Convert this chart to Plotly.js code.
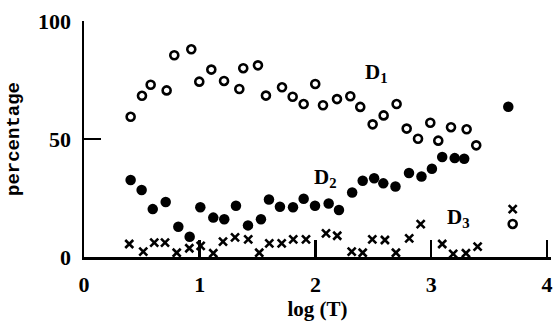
<!DOCTYPE html>
<html>
<head>
<meta charset="utf-8">
<script src="https://cdn.plot.ly/plotly-3.0.1.min.js"></script>
<style>html,body{margin:0;padding:0;background:#fff;}#chart{width:553px;height:327px;}</style>
</head>
<body>
<div id="chart"></div>
<script>
// D1 (open circles)
var d1X = [0.403,0.501,0.576,0.714,0.780,0.927,0.996,1.100,1.210,1.342,1.376,1.503,1.572,1.711,1.803,1.898,1.998,2.065,2.186,2.301,2.387,2.494,2.589,2.701,2.788,2.886,2.992,3.061,3.171,3.306,3.389,3.704];
var d1Y = [59.4,68.3,73.0,70.6,85.5,88.0,74.3,79.4,74.6,71.2,80.0,81.2,68.4,71.9,67.9,64.8,73.3,64.3,66.9,68.1,63.6,56.2,60.0,64.8,54.4,50.1,56.9,49.3,55.0,54.1,47.3,14.0];
// D2 (filled circles)
var d2X = [0.403,0.498,0.594,0.706,0.815,0.913,1.005,1.117,1.212,1.313,1.417,1.529,1.598,1.693,1.806,1.898,1.996,2.114,2.203,2.317,2.408,2.507,2.586,2.691,2.808,2.916,3.006,3.095,3.203,3.285,3.666];
var d2Y = [32.6,28.4,20.3,23.3,12.8,8.6,21.1,16.7,16.0,21.7,13.4,16.0,24.4,21.3,21.1,24.7,21.7,22.7,19.9,27.3,32.3,33.4,31.2,29.9,35.6,34.1,37.4,42.4,41.9,41.6,63.7];
// D3 (crosses)
var d3X = [0.391,0.512,0.607,0.700,0.801,0.910,1.008,1.117,1.201,1.305,1.419,1.514,1.601,1.708,1.808,1.918,2.091,2.188,2.313,2.408,2.491,2.600,2.695,2.810,2.909,3.095,3.190,3.300,3.401,3.704];
var d3Y = [5.5,2.3,6.1,6.1,1.8,3.7,4.7,1.6,6.5,8.3,7.5,1.8,5.8,5.8,7.5,7.5,10.0,9.0,2.3,1.8,7.5,7.2,1.8,7.9,13.9,5.5,1.3,1.6,4.4,20.3];

var seriesLabels = ['D<sub>1</sub>','D<sub>2</sub>','D<sub>3</sub>'];
var labelX = [2.53, 2.09, 3.235];
var labelY = [77.8, 33.3, 16.4];
var xTicks = [0,1,2,3,4];
var yTicks = [0,50,100];

var traces = [
  {x:d1X, y:d1Y, mode:'markers', type:'scatter', cliponaxis:false,
   marker:{symbol:'circle-open', size:8, color:'#000', line:{width:2.6, color:'#000'}}},
  {x:d2X, y:d2Y, mode:'markers', type:'scatter', cliponaxis:false,
   marker:{symbol:'circle', size:10.5, color:'#000', line:{width:0}}},
  {x:d3X, y:d3Y, mode:'markers', type:'scatter', cliponaxis:false,
   marker:{symbol:'x-thin', size:8, color:'#000', line:{width:2.6, color:'#000'}}}
];

var annotations = seriesLabels.map(function(t,i){
  return {x:labelX[i], y:labelY[i], xref:'x', yref:'y', text:t, showarrow:false,
    font:{family:'Liberation Serif', size:21, color:'#000', weight:700}};
});

var layout = {
  width:553, height:327,
  margin:{l:84, r:2, t:21, b:70},
  paper_bgcolor:'#fff', plot_bgcolor:'#fff',
  showlegend:false,
  xaxis:{range:[0,4.035], tickvals:xTicks, ticktext:xTicks.map(String),
    showgrid:false, zeroline:false, showline:true, linecolor:'#000', linewidth:2.5,
    ticks:'inside', ticklen:17, tickwidth:2.5, tickcolor:'#000',
    ticklabelstandoff:6,
    tickfont:{family:'Liberation Serif', size:22, color:'#000', weight:700},
    title:{text:'log (T)', standoff:6, font:{family:'Liberation Serif', size:21, color:'#000', weight:700}}},
  yaxis:{range:[0,100], tickvals:yTicks, ticktext:yTicks.map(String),
    showgrid:false, zeroline:false, showline:true, linecolor:'#000', linewidth:2.5,
    ticks:'inside', ticklen:17, tickwidth:2.5, tickcolor:'#000',
    ticklabelstandoff:6,
    tickfont:{family:'Liberation Serif', size:22, color:'#000', weight:700},
    title:{text:'percentage', standoff:14, font:{family:'Liberation Mono', size:19, color:'#000', weight:700}}},
  annotations:annotations
};

Plotly.newPlot('chart', traces, layout, {displayModeBar:false, staticPlot:true});
</script>
</body>
</html>
